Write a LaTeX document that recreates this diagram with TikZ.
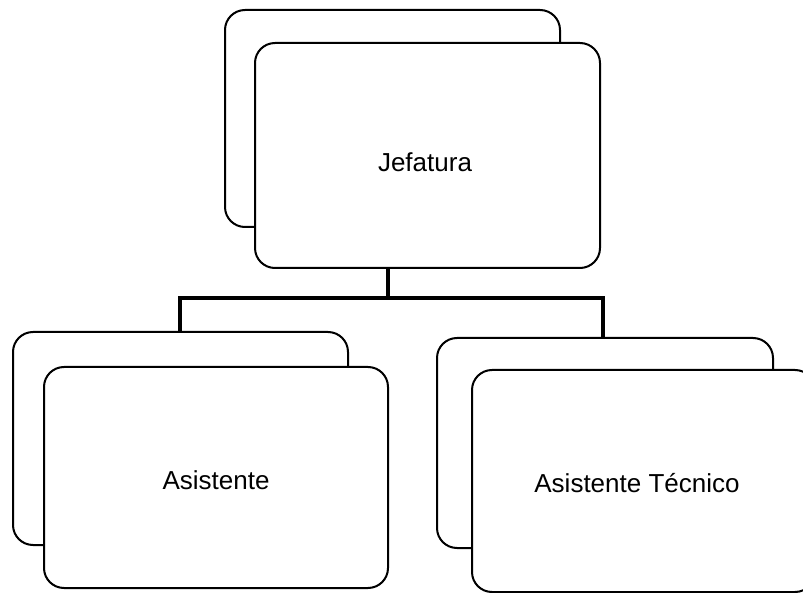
\documentclass[tikz,border=0pt]{standalone}
\usepackage{fontspec}
\setmainfont{Liberation Sans}
\begin{document}
\begin{tikzpicture}[x=1pt,y=-1pt,
  card/.style={draw=black, line width=2pt, fill=white, rounded corners=20pt,
    inner sep=0pt},
  label/.style={font=\fontsize{26}{31}\selectfont},
  link/.style={draw=black, line width=3.5pt}]
  \clip (0,0) rectangle (803,593);
  \fill[white] (0,0) rectangle (803,593);

  % top group: Jefatura
  \node[card, minimum width=335pt, minimum height=217pt] (jb) at (392.5,118.5) {};
  \node[card, minimum width=345pt, minimum height=225pt] (jefe) at (427.5,155.5) {};
  \node[label] (jt) at (425,162) {Jefatura};

  % junction points of the connector tree
  \coordinate (hub) at (388,298);
  \coordinate (hl) at (180,298);
  \coordinate (hr) at (603,298);

  % bottom left group: Asistente
  \node[card, minimum width=335pt, minimum height=213pt] (ab) at (180.5,438.5) {};
  \node[card, minimum width=344pt, minimum height=221pt] (asis) at (216,477.5) {};
  \node[label] (at) at (216,480) {Asistente};

  % bottom right group: Asistente Técnico
  \node[card, minimum width=336pt, minimum height=210pt] (tb) at (605,443) {};
  \node[card, minimum width=343pt, minimum height=222pt] (tec) at (643.5,481) {};
  \node[label] (tt) at (637,483) {Asistente Técnico};

  % connectors
  \draw[link] (jefe.south -| hub) -- (hub);
  \draw[link] ([xshift=-1.75pt]hl) -- ([xshift=1.75pt]hr);
  \draw[link] (hl) -- (ab.north -| hl);
  \draw[link] (hr) -- (tb.north -| hr);
\end{tikzpicture}
\end{document}
